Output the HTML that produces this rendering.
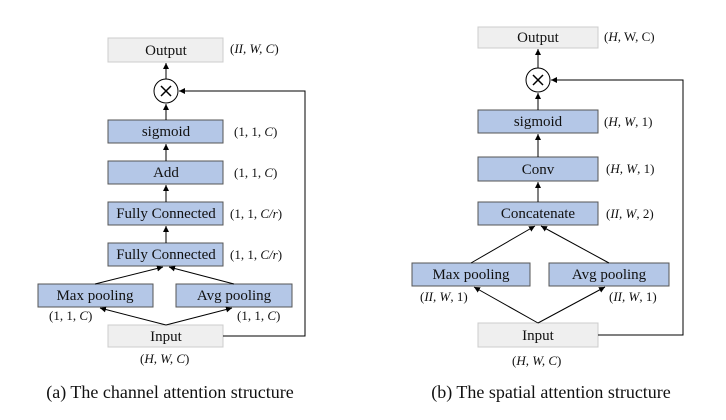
<!DOCTYPE html>
<html><head><style>body{margin:0;background:#fff}svg{display:block}text{font-family:"Liberation Serif","Times New Roman",serif}</style></head><body>
<svg width="726" height="420" viewBox="0 0 726 420" xmlns="http://www.w3.org/2000/svg">
<defs><marker id="a" markerWidth="8" markerHeight="8" refX="6" refY="3" orient="auto" markerUnits="userSpaceOnUse"><path d="M0,0 L6,3 L0,6 z" fill="#000"/></marker></defs>
<g stroke="#555" stroke-width="1">
<rect x="108" y="38" width="115" height="24" fill="#efefef" stroke="#ccc"/>
<rect x="108" y="120" width="115" height="23" fill="#b4c7e7"/>
<rect x="108" y="161" width="115" height="23" fill="#b4c7e7"/>
<rect x="108" y="202" width="115" height="23" fill="#b4c7e7"/>
<rect x="108" y="243" width="115" height="23" fill="#b4c7e7"/>
<rect x="38" y="284" width="115" height="23" fill="#b4c7e7"/>
<rect x="176" y="284" width="116" height="23" fill="#b4c7e7"/>
<rect x="108" y="325" width="115" height="22" fill="#efefef" stroke="#ccc"/>
<rect x="478" y="27" width="120" height="21" fill="#efefef" stroke="#ccc"/>
<rect x="478" y="110" width="120" height="23" fill="#b4c7e7"/>
<rect x="478" y="157" width="120" height="24" fill="#b4c7e7"/>
<rect x="478" y="202" width="120" height="23" fill="#b4c7e7"/>
<rect x="412" y="263" width="118" height="23" fill="#b4c7e7"/>
<rect x="549" y="263" width="120" height="23" fill="#b4c7e7"/>
<rect x="478" y="323" width="120" height="24" fill="#efefef" stroke="#ccc"/>
</g>
<g stroke="#000" stroke-width="1" fill="none">
<circle cx="166" cy="91" r="12"/>
<path d="M161,86 L171,96 M171,86 L161,96" stroke-width="1.5"/>
<circle cx="538" cy="80" r="12"/>
<path d="M533,75 L543,85 M543,75 L533,85" stroke-width="1.5"/>
<g marker-end="url(#a)">
<line x1="166" y1="79" x2="166" y2="63"/>
<line x1="166" y1="120" x2="166" y2="104"/>
<line x1="166" y1="161" x2="166" y2="144"/>
<line x1="166" y1="202" x2="166" y2="185"/>
<line x1="166" y1="243" x2="166" y2="226"/>
<line x1="95" y1="284" x2="163" y2="267"/>
<line x1="234" y1="284" x2="169" y2="267"/>
<line x1="166" y1="325" x2="100" y2="308"/>
<line x1="166" y1="325" x2="232" y2="308"/>
<polyline points="223,336 305,336 305,91 179,91"/>
<line x1="538" y1="68" x2="538" y2="49"/>
<line x1="538" y1="110" x2="538" y2="93"/>
<line x1="538" y1="157" x2="538" y2="134"/>
<line x1="538" y1="202" x2="538" y2="182"/>
<line x1="471" y1="263" x2="535" y2="226"/>
<line x1="609" y1="263" x2="541" y2="226"/>
<line x1="538" y1="323" x2="474" y2="287"/>
<line x1="538" y1="323" x2="605" y2="287"/>
<polyline points="598,335 683,335 683,80 551,80"/>
</g>
</g>
<g font-size="15" text-anchor="middle" fill="#111">
<text x="166" y="55">Output</text>
<text x="166" y="136">sigmoid</text>
<text x="166" y="177">Add</text>
<text x="166" y="218">Fully Connected</text>
<text x="166" y="259">Fully Connected</text>
<text x="95" y="300">Max pooling</text>
<text x="234" y="300">Avg pooling</text>
<text x="166" y="341">Input</text>
<text x="538" y="42">Output</text>
<text x="538" y="126">sigmoid</text>
<text x="538" y="174">Conv</text>
<text x="538" y="218">Concatenate</text>
<text x="471" y="279">Max pooling</text>
<text x="609" y="279">Avg pooling</text>
<text x="538" y="340">Input</text>
</g>
<g font-size="13" fill="#111">
<text x="230" y="53">(<tspan font-style="italic">II, W, C</tspan>)</text>
<text x="234" y="136">(1, 1, <tspan font-style="italic">C</tspan>)</text>
<text x="234" y="177">(1, 1, <tspan font-style="italic">C</tspan>)</text>
<text x="230" y="218">(1, 1, <tspan font-style="italic">C/r</tspan>)</text>
<text x="230" y="259">(1, 1, <tspan font-style="italic">C/r</tspan>)</text>
<text x="49" y="320">(1, 1, <tspan font-style="italic">C</tspan>)</text>
<text x="237" y="320">(1, 1, <tspan font-style="italic">C</tspan>)</text>
<text x="140" y="363">(<tspan font-style="italic">H, W, C</tspan>)</text>
<text x="604" y="41">(<tspan font-style="italic">H</tspan>, W, C)</text>
<text x="604" y="126">(<tspan font-style="italic">H, W</tspan>, 1)</text>
<text x="606" y="173">(<tspan font-style="italic">H, W</tspan>, 1)</text>
<text x="606" y="218">(<tspan font-style="italic">II, W</tspan>, 2)</text>
<text x="420" y="301">(<tspan font-style="italic">II, W</tspan>, 1)</text>
<text x="609" y="301">(<tspan font-style="italic">II, W</tspan>, 1)</text>
<text x="512" y="365">(<tspan font-style="italic">H, W, C</tspan>)</text>
</g>
<g font-size="18" text-anchor="middle" fill="#111">
<text x="170" y="398">(a) The channel attention structure</text>
<text x="551" y="398">(b) The spatial attention structure</text>
</g>
</svg>
</body></html>
